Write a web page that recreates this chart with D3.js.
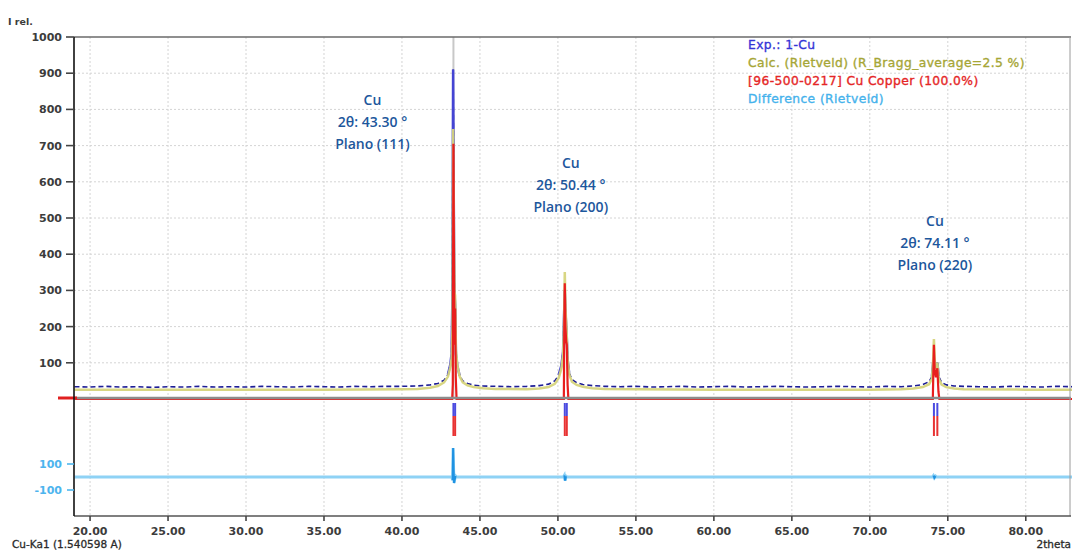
<!DOCTYPE html>
<html>
<head>
<meta charset="utf-8">
<script src="https://cdn.jsdelivr.net/npm/d3@7"></script>
<style>
  html, body { margin: 0; padding: 0; background: #fff; }
  svg { display: block; }
</style>
</head>
<body>
<svg id="chart" width="1072" height="551"></svg>
<script>
// Measured pattern (2theta, counts)
const expTheta = [19.0,20.0,21.0,22.0,23.0,24.0,25.0,26.0,27.0,28.0,29.0,30.0,31.0,32.0,33.0,34.0,35.0,36.0,37.0,38.0,39.0,40.0,41.0,41.8,42.3,42.7,42.95,43.1,43.18,43.23,43.28,43.32,43.36,43.41,43.46,43.55,43.7,43.9,44.2,44.6,45.2,46.0,47.0,48.0,48.8,49.4,49.8,50.05,50.22,50.33,50.40,50.44,50.49,50.55,50.62,50.72,50.9,51.2,51.6,52.2,53.0,54.0,55.0,56.0,57.0,58.0,59.0,60.0,61.0,62.0,63.0,64.0,65.0,66.0,67.0,68.0,69.0,70.0,71.0,72.0,72.8,73.4,73.8,73.98,74.06,74.11,74.18,74.26,74.33,74.42,74.6,74.9,75.4,76.0,77.0,78.0,79.0,80.0,81.0,82.0,83.0];
const expInt   = [34,33,35,33,34,32,34,33,35,33,34,33,35,34,33,35,34,33,35,34,35,35,36,39,43,52,68,95,125,270,910,560,300,260,125,92,64,50,43,38,36,35,34,35,37,41,50,66,92,130,240,300,235,190,110,72,54,45,40,37,35,34,35,33,34,35,33,34,35,33,34,35,34,33,34,35,34,33,35,34,36,40,48,62,100,112,98,92,100,62,46,39,36,35,34,33,35,34,33,35,34];

// Rietveld calculated pattern
const calcTheta = [19,25,30,35,40,41,41.8,42.3,42.7,42.95,43.1,43.18,43.24,43.28,43.32,43.37,43.41,43.46,43.55,43.7,43.9,44.2,44.6,45.2,46,48,48.8,49.4,49.8,50.05,50.22,50.33,50.40,50.44,50.49,50.55,50.62,50.72,50.9,51.2,51.6,52.2,53,55,60,65,70,72,72.8,73.4,73.8,73.98,74.06,74.11,74.18,74.26,74.33,74.42,74.6,74.9,75.4,76,80,83];
const calcInt   = [30,30,30,30,31,32,35,40,50,66,92,115,200,750,520,300,290,140,98,66,50,42,37,34,32,31,33,37,46,62,88,125,230,355,250,200,115,72,52,43,38,34,32,31,30,30,30,31,33,37,45,60,110,170,95,90,105,60,44,37,33,31,30,30];

// Cu phase contribution
const phaseTheta = [19,43.22,43.26,43.30,43.34,43.38,43.41,43.45,43.5,50.38,50.41,50.44,50.48,50.53,50.57,50.62,50.67,74.04,74.08,74.11,74.16,74.24,74.33,74.40,74.46,83];
const phaseInt   = [0,0,40,705,330,150,250,60,0,0,215,320,200,160,150,40,0,0,90,150,80,60,85,20,0,0];

// Difference curve (exp - calc)
const diffTheta = [19,43.2,43.25,43.28,43.31,43.34,43.38,43.44,43.5,50.35,50.41,50.46,50.52,50.58,74.02,74.08,74.14,74.22,74.28,83];
const diffInt   = [0,0,-25,223,60,-46,-20,8,0,0,12,-28,6,0,0,10,-6,6,0,0];

// Bragg reflections of Cu (Ka1 / Ka2)
const braggPos = [43.30, 43.41, 50.44, 50.57, 74.11, 74.33];

// Peak annotations
const peakTheta = [43.30, 50.44, 74.11];
const peakPlane = ["(111)", "(200)", "(220)"];
const peakLabelIntensity = [826, 652, 492];
const peakLabelShift = [-81, 6, 1];

// Axis ticks
const xTicks = [20, 25, 30, 35, 40, 45, 50, 55, 60, 65, 70, 75, 80];
const yTicks = [100, 200, 300, 400, 500, 600, 700, 800, 900, 1000];
const diffTicks = [100, -100];

// Legend entries
const legendLabels = ["Exp.: 1-Cu", "Calc. (Rietveld) (R_Bragg_average=2.5 %)", "[96-500-0217] Cu Copper (100.0%)", "Difference (Rietveld)"];
const legendColors = ["#3434d6", "#a6a636", "#e52626", "#45b2ec"];

const svg = d3.select("#chart");
const plotLeft = 74, plotRight = 1070, plotTop = 37, plotBottom = 516;

const x = d3.scaleLinear().domain([18.97, 82.9]).range([plotLeft, 1071]);
const y = d3.scaleLinear().domain([0, 1000]).range([399, plotTop]);
const yd = d3.scaleLinear().domain([-100, 100]).range([490, 464]);

const font = "'DejaVu Sans', Verdana, sans-serif";

// grid
const grid = svg.append("g");
grid.selectAll("line.v").data(xTicks).join("line").attr("class", "v")
  .attr("x1", d => x(d)).attr("x2", d => x(d))
  .attr("y1", plotTop).attr("y2", plotBottom)
  .attr("stroke", "#d4d4d4").attr("stroke-width", 1).attr("stroke-dasharray", "2 2");
grid.selectAll("line.h").data(yTicks.filter(d => d < 1000)).join("line").attr("class", "h")
  .attr("x1", plotLeft).attr("x2", plotRight)
  .attr("y1", d => y(d)).attr("y2", d => y(d))
  .attr("stroke", "#d4d4d4").attr("stroke-width", 1).attr("stroke-dasharray", "2 2");

// cursor line at strongest reflection
svg.append("line")
  .attr("x1", x(peakTheta[0])).attr("x2", x(peakTheta[0]))
  .attr("y1", plotTop).attr("y2", y(0))
  .attr("stroke", "#c8c8c8").attr("stroke-width", 2);

const zip = (a, b) => a.map((t, i) => [t, b[i]]);
const expData = zip(expTheta, expInt);
const calcData = zip(calcTheta, calcInt);
const phaseData = zip(phaseTheta, phaseInt);
const diffData = zip(diffTheta, diffInt);

const line = d3.line().x(d => x(d[0])).y(d => y(d[1]));
const lineD = d3.line().x(d => x(d[0])).y(d => yd(d[1]));

// measured pattern: dashed along background, solid through peaks
svg.append("path").datum(expData).attr("d", line)
  .attr("fill", "none").attr("stroke", "#1e1e96").attr("stroke-width", 1.6)
  .attr("stroke-dasharray", "5 3");
svg.append("path").datum(expData)
  .attr("d", d3.line().defined(d => d[1] > 55).x(d => x(d[0])).y(d => y(d[1])))
  .attr("fill", "none").attr("stroke", "#4444d4").attr("stroke-width", 2.5);

// calculated pattern
svg.append("path").datum(calcData).attr("d", d3.line().x(d => x(d[0])).y(d => y(d[1]) + 1.5))
  .attr("fill", "none").attr("stroke", "#d6d47c").attr("stroke-width", 2.5).attr("opacity", 0.95);

// Cu phase
svg.append("path").datum(phaseData).attr("d", line)
  .attr("fill", "none").attr("stroke", "#e81e1e").attr("stroke-width", 2.2);

// zero line
svg.append("line").attr("x1", plotLeft).attr("x2", 1071)
  .attr("y1", y(0) - 1).attr("y2", y(0) - 1)
  .attr("stroke", "#8c8c8c").attr("stroke-width", 2.5);
svg.append("line").attr("x1", 58).attr("x2", 77)
  .attr("y1", y(0) - 1).attr("y2", y(0) - 1)
  .attr("stroke", "#e02020").attr("stroke-width", 3);

// Bragg markers
const bm = svg.append("g");
bm.selectAll("line.b").data(braggPos).join("line").attr("class", "b")
  .attr("x1", d => x(d)).attr("x2", d => x(d))
  .attr("y1", 403).attr("y2", 416)
  .attr("stroke", "#4b4be0").attr("stroke-width", 2);
bm.selectAll("line.r").data(braggPos).join("line").attr("class", "r")
  .attr("x1", d => x(d)).attr("x2", d => x(d))
  .attr("y1", 416).attr("y2", 436)
  .attr("stroke", "#e83232").attr("stroke-width", 2);

// difference: light base curve, deeper colour where it departs from zero
svg.append("path").datum(diffData).attr("d", lineD)
  .attr("fill", "none").attr("stroke", "#8ed2f5").attr("stroke-width", 3);
svg.append("path").datum(diffData)
  .attr("d", d3.line().defined(d => d[1] !== 0).x(d => x(d[0])).y(d => yd(d[1])))
  .attr("fill", "none").attr("stroke", "#1f92e2").attr("stroke-width", 2);

// frame
svg.append("line").attr("x1", plotLeft).attr("x2", 1071).attr("y1", plotTop).attr("y2", plotTop)
  .attr("stroke", "#6a6a6a").attr("stroke-width", 1.5);
svg.append("line").attr("x1", 1070).attr("x2", 1070).attr("y1", plotTop).attr("y2", plotBottom)
  .attr("stroke", "#9a9a9a").attr("stroke-width", 1);
svg.append("line").attr("x1", plotLeft).attr("x2", 1071).attr("y1", plotBottom).attr("y2", plotBottom)
  .attr("stroke", "#555").attr("stroke-width", 1.5);
svg.append("line").attr("x1", plotLeft).attr("x2", plotLeft).attr("y1", plotTop).attr("y2", plotBottom)
  .attr("stroke", "#111").attr("stroke-width", 1.6);

// y axis (intensity)
const yAxis = svg.append("g");
yAxis.selectAll("line").data(yTicks).join("line")
  .attr("x1", 66).attr("x2", plotLeft).attr("y1", d => y(d)).attr("y2", d => y(d))
  .attr("stroke", "#444").attr("stroke-width", 1.6);
yAxis.selectAll("text").data(yTicks).join("text")
  .attr("x", 62).attr("y", d => y(d)).attr("dy", "0.36em")
  .attr("text-anchor", "end").attr("font-family", font).attr("font-size", 11)
  .attr("font-weight", "bold").attr("fill", "#3c3c3c").text(d => d);

// difference axis
const dAxis = svg.append("g");
dAxis.selectAll("line").data(diffTicks).join("line")
  .attr("x1", 67).attr("x2", plotLeft).attr("y1", d => yd(d)).attr("y2", d => yd(d))
  .attr("stroke", "#4fb6ee").attr("stroke-width", 1.6);
dAxis.selectAll("text").data(diffTicks).join("text")
  .attr("x", 62).attr("y", d => yd(d)).attr("dy", "0.36em")
  .attr("text-anchor", "end").attr("font-family", font).attr("font-size", 11)
  .attr("font-weight", "bold").attr("fill", "#4db4ee").text(d => d);

// x axis
const xAxis = svg.append("g");
xAxis.selectAll("line").data(xTicks).join("line")
  .attr("x1", d => x(d)).attr("x2", d => x(d)).attr("y1", plotBottom).attr("y2", plotBottom + 5)
  .attr("stroke", "#444").attr("stroke-width", 1.6);
xAxis.selectAll("text").data(xTicks).join("text")
  .attr("x", d => x(d)).attr("y", 535)
  .attr("text-anchor", "middle").attr("font-family", font).attr("font-size", 11)
  .attr("font-weight", "bold").attr("fill", "#3c3c3c").text(d => d.toFixed(2));

svg.append("text").attr("x", 8).attr("y", 25).attr("font-family", font)
  .attr("font-size", 9.5).attr("font-weight", "bold").attr("fill", "#3c3c3c").text("I rel.");
svg.append("text").attr("x", 12).attr("y", 548).attr("font-family", font)
  .attr("font-size", 10.5).attr("fill", "#2a2a2a").attr("stroke", "#2a2a2a").attr("stroke-width", 0.3)
  .text("Cu-Ka1 (1.540598 A)");
svg.append("text").attr("x", 1071).attr("y", 548).attr("text-anchor", "end").attr("font-family", font)
  .attr("font-size", 10.5).attr("fill", "#2a2a2a").attr("stroke", "#2a2a2a").attr("stroke-width", 0.3)
  .text("2theta");

// legend
const lg = svg.append("g");
lg.selectAll("text").data(legendLabels).join("text")
  .attr("x", 748).attr("y", (d, i) => 45 + i * 18).attr("dy", "0.36em")
  .attr("font-family", font).attr("font-size", 12.3).attr("letter-spacing", 0.4)
  .attr("fill", (d, i) => legendColors[i])
  .attr("stroke", (d, i) => legendColors[i]).attr("stroke-width", 0.35)
  .text(d => d);

// peak annotations
const ann = svg.append("g").attr("font-family", "'Open Sans', sans-serif")
  .attr("font-size", 14).attr("font-weight", 600).attr("fill", "#1d579c").attr("text-anchor", "middle");
peakTheta.forEach((t, i) => {
  const lines = ["Cu", "2θ: " + t.toFixed(2) + " °", "Plano " + peakPlane[i]];
  lines.forEach((s, j) => {
    ann.append("text").attr("x", x(t) + peakLabelShift[i])
      .attr("y", y(peakLabelIntensity[i]) + j * 22).attr("dy", "0.36em").text(s);
  });
});
</script>
</body>
</html>
